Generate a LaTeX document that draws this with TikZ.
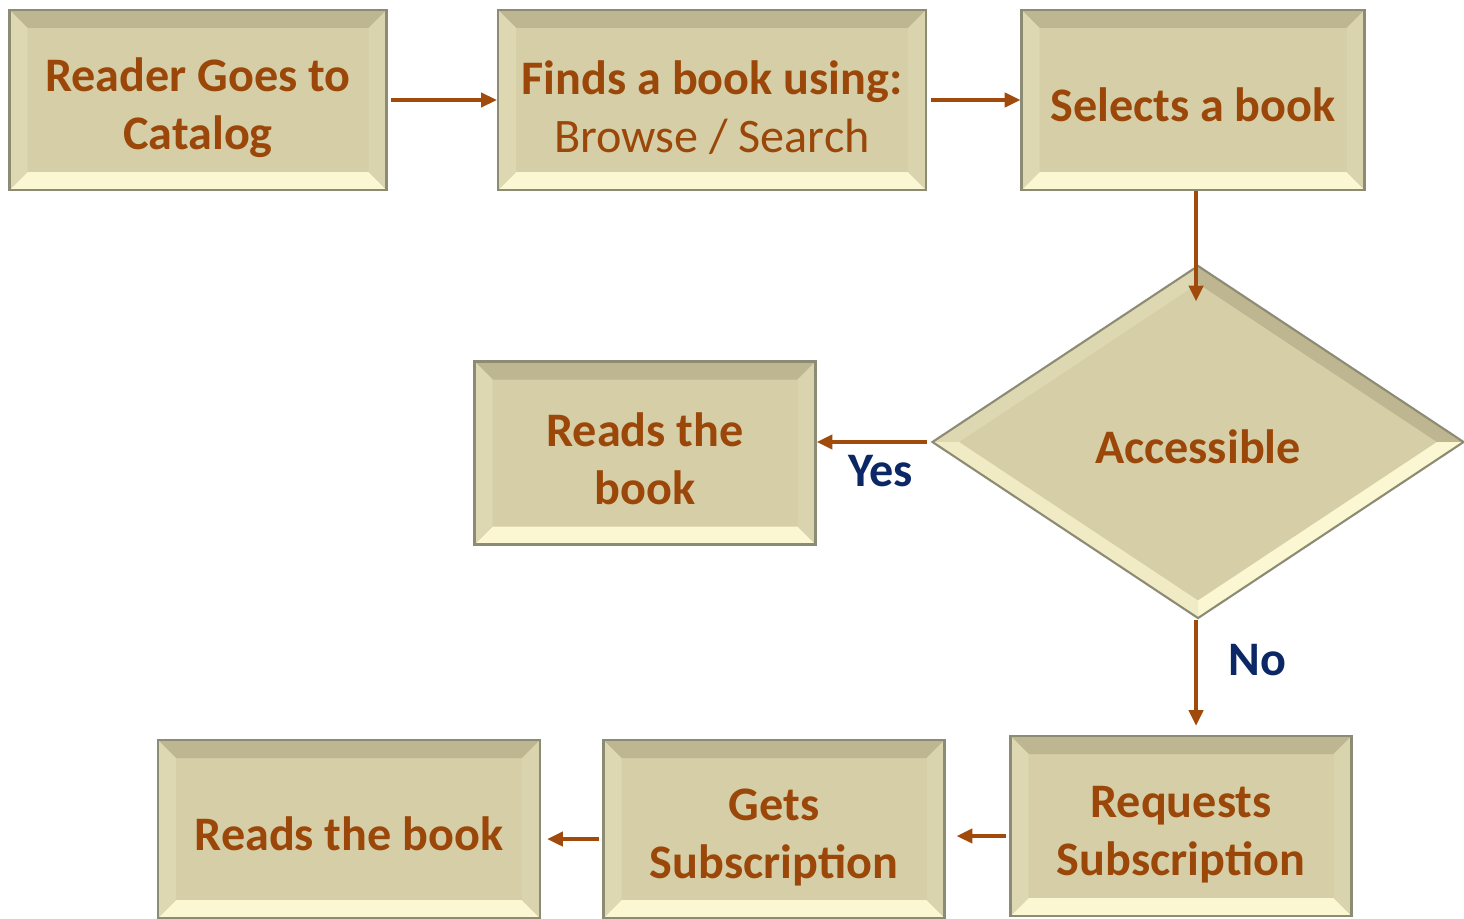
\documentclass[tikz,border=0pt]{standalone}
\usepackage{fontspec}
\setmainfont{Carlito}
\usetikzlibrary{arrows.meta, shapes.geometric, calc}
\definecolor{boxfill}{HTML}{D5CEA6}
\definecolor{bevtop}{HTML}{BEB591}
\definecolor{bevbot}{HTML}{FBF7D2}
\definecolor{bevleft}{HTML}{DED8B2}
\definecolor{bevright}{HTML}{D9D3AE}
\definecolor{boxedge}{HTML}{8C8B74}
\definecolor{textbrown}{HTML}{9B4709}
\definecolor{arrowbrown}{HTML}{A04A0C}
\definecolor{navy}{HTML}{0B2766}
\newcommand{\boxstrut}[1][28pt]{\rule{0pt}{#1}}
\tikzset{
        stepbox/.style={draw=boxedge, line width=1.2pt, fill=boxfill, align=center, inner sep=0pt,
            text=textbrown, font=\fontsize{27.4}{33}\selectfont\bfseries,
            path picture={
                \coordinate (nw) at (path picture bounding box.north west);
                \coordinate (ne) at (path picture bounding box.north east);
                \coordinate (sw) at (path picture bounding box.south west);
                \coordinate (se) at (path picture bounding box.south east);
                \fill[bevtop] (nw) -- (ne) -- ([shift={(-0.36,-0.36)}]ne) -- ([shift={(0.36,-0.36)}]nw) -- cycle;
                \fill[bevbot] (sw) -- (se) -- ([shift={(-0.36,0.36)}]se) -- ([shift={(0.36,0.36)}]sw) -- cycle;
                \fill[bevleft] (nw) -- (sw) -- ([shift={(0.36,0.36)}]sw) -- ([shift={(0.36,-0.36)}]nw) -- cycle;
                \fill[bevright] (ne) -- (se) -- ([shift={(-0.36,0.36)}]se) -- ([shift={(-0.36,-0.36)}]ne) -- cycle;
            }},
        choice/.style={diamond, draw=boxedge, line width=1.2pt, fill=boxfill, inner sep=0pt,
            text=textbrown, font=\fontsize{27.4}{33}\selectfont\bfseries,
            minimum width=10.64cm, minimum height=7.06cm,
            path picture={
                \coordinate (c) at (path picture bounding box.center);
                \coordinate (dn) at (path picture bounding box.north);
                \coordinate (de) at (path picture bounding box.east);
                \coordinate (ds) at (path picture bounding box.south);
                \coordinate (dw) at (path picture bounding box.west);
                \fill[bevleft] (dw) -- (dn) -- ($(c)!0.9!(dn)$) -- ($(c)!0.9!(dw)$) -- cycle;
                \fill[bevtop] (dn) -- (de) -- ($(c)!0.9!(de)$) -- ($(c)!0.9!(dn)$) -- cycle;
                \fill[bevbot] (de) -- (ds) -- ($(c)!0.9!(ds)$) -- ($(c)!0.9!(de)$) -- cycle;
                \fill[bevbot!70!boxfill] (ds) -- (dw) -- ($(c)!0.9!(dw)$) -- ($(c)!0.9!(ds)$) -- cycle;
            }},
        line/.style={-{Triangle[length=9pt, width=8pt]}, line width=2.4pt, draw=arrowbrown},
        answer/.style={text=navy, font=\fontsize{27.4}{33}\selectfont\bfseries}
    }
\begin{document}
\begin{tikzpicture}
    \useasboundingbox (0,0) rectangle (29.28,-18.36);

    % top row
    \node[stepbox, minimum width=7.54cm, minimum height=3.6cm] (catalog) at (3.96, -2.0) {\boxstrut Reader Goes to\\Catalog};
    \node[stepbox, minimum width=8.56cm, minimum height=3.6cm] (find) at (14.24, -2.0) {\boxstrut Finds a book using:\\{\mdseries Browse / Search}};
    \node[stepbox, minimum width=6.86cm, minimum height=3.6cm] (select) at (23.86, -2.0) {\boxstrut[25pt]Selects a book};

    % decision and the direct path
    \node[choice] (acc) at (23.96, -8.84) {\boxstrut[25pt]Accessible};
    \node[stepbox, minimum width=6.82cm, minimum height=3.66cm] (read) at (12.9, -9.06) {\boxstrut[26pt]Reads the\\book};

    % bottom row
    \node[stepbox, minimum width=6.82cm, minimum height=3.6cm] (request) at (23.62, -16.52) {\boxstrut Requests\\Subscription};
    \node[stepbox, minimum width=6.82cm, minimum height=3.56cm] (gets) at (15.48, -16.58) {\boxstrut Gets\\Subscription};
    \node[stepbox, minimum width=7.64cm, minimum height=3.56cm] (readsub) at (6.98, -16.58) {\boxstrut[25pt]Reads the book};

    % connections
    \draw[line, shorten <=2pt] (catalog)-- (find);
    \draw[line, shorten <=2pt] (find)-- (select);
    \draw[line, shorten >=-0.74cm] ([xshift=0.06cm]select.south)-- ([xshift=0.06cm]select.south |- acc.north);
    \draw[line] ([xshift=-2pt]acc.west)-- (acc.west -| read.east) node[answer, pos=0.42, below=3pt] {Yes};
    \draw[line, shorten >=0.18cm] ([xshift=-0.04cm]acc.south)-- ([xshift=-0.04cm]acc.south |- request.north) node[answer, pos=0.35, right=0.5cm] {No};
    \draw[line, shorten <=2pt, shorten >=0.22cm] ([yshift=-0.2cm]request.west)-- ([yshift=-0.2cm]request.west -| gets.east);
    \draw[line, shorten <=2pt, shorten >=0.12cm] ([yshift=-0.2cm]gets.west)-- ([yshift=-0.2cm]gets.west -| readsub.east);
\end{tikzpicture}
\end{document}
